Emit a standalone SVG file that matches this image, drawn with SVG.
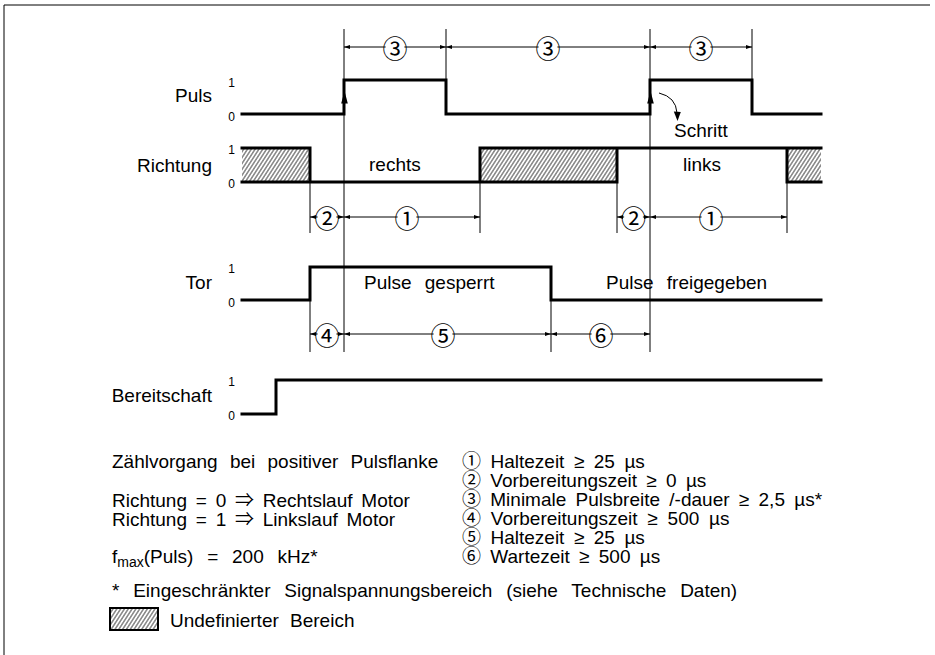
<svg xmlns="http://www.w3.org/2000/svg" width="935" height="655" viewBox="0 0 935 655">
<style>
 text { font-family: 'Liberation Sans', Arial, 'Noto Sans CJK JP', sans-serif; fill:#000; }
 .lbl { font-size:19px; }
 .end { text-anchor:end; }
 .sig { fill:none; stroke:#000; stroke-width:3; stroke-linejoin:miter; stroke-linecap:square; }
 .thin { stroke:#000; stroke-width:1; fill:none; }
 .lv { font-size:12px; text-anchor:middle; }
 .dim { stroke:#000; stroke-width:1; marker-start:url(#ah); marker-end:url(#ah); }
 .cn { font-size:25px; text-anchor:middle; dominant-baseline:central; font-family:'Noto Sans CJK JP', sans-serif; }
 .bg { fill:#fff; }
 .hat { fill:url(#hatch); stroke:none; }
</style>
<defs>
 <marker id="ah" markerUnits="userSpaceOnUse" markerWidth="6" markerHeight="4" refX="6" refY="2" orient="auto-start-reverse"><path d="M0,0 L6,2 L0,4 z" fill="#000"/></marker>
 <pattern id="hatch" patternUnits="userSpaceOnUse" width="3.2" height="10" patternTransform="rotate(33)"><line x1="0.8" y1="0" x2="0.8" y2="10" stroke="#000" stroke-width="0.8"/></pattern>
</defs>

<path id="frame" d="M4,655 V5 H930" class="thin" stroke-width="1.3"/>

<g id="connectors">
 <g id="verticals" class="thin">
  <line x1="310" y1="182" x2="310" y2="233"/>
  <line x1="310" y1="300" x2="310" y2="352"/>
  <line x1="344" y1="29" x2="344" y2="352"/>
  <line x1="446" y1="29" x2="446" y2="114"/>
  <line x1="480" y1="182" x2="480" y2="233"/>
  <line x1="551" y1="300" x2="551" y2="352"/>
  <line x1="617" y1="182" x2="617" y2="233"/>
  <line x1="650" y1="29" x2="650" y2="352"/>
  <line x1="752" y1="29" x2="752" y2="114"/>
  <line x1="787" y1="182" x2="787" y2="233"/>
 </g>
 <g id="dims">
  <line class="dim" x1="344" y1="47" x2="446" y2="47"/>
  <line class="dim" x1="446" y1="47" x2="650" y2="47"/>
  <line class="dim" x1="650" y1="47" x2="752" y2="47"/>
  <line class="dim" x1="310" y1="217" x2="344" y2="217"/>
  <line class="dim" x1="344" y1="217" x2="480" y2="217"/>
  <line class="dim" x1="617" y1="217" x2="650" y2="217"/>
  <line class="dim" x1="650" y1="217" x2="787" y2="217"/>
  <line class="dim" x1="310" y1="334" x2="344" y2="334"/>
  <line class="dim" x1="344" y1="334" x2="551" y2="334"/>
  <line class="dim" x1="551" y1="334" x2="650" y2="334"/>
 </g>
 <g id="schritt-arrow">
  <path d="M659,93 Q676,97 677,113" class="thin"/>
  <polygon points="677.5,121 673.8,111.5 680.8,112"/>
 </g>
</g>

<g id="dim-labels">
 <circle class="bg" cx="395" cy="47" r="9.5"/><text class="cn" x="395" y="47">③</text>
 <circle class="bg" cx="548" cy="47" r="9.5"/><text class="cn" x="548" y="47">③</text>
 <circle class="bg" cx="701" cy="47" r="9.5"/><text class="cn" x="701" y="47">③</text>
 <circle class="bg" cx="327" cy="217" r="9.5"/><text class="cn" x="327" y="217">②</text>
 <circle class="bg" cx="407" cy="217" r="9.5"/><text class="cn" x="407" y="217">①</text>
 <circle class="bg" cx="633.5" cy="217" r="9.5"/><text class="cn" x="633.5" y="217">②</text>
 <circle class="bg" cx="711" cy="217" r="9.5"/><text class="cn" x="711" y="217">①</text>
 <circle class="bg" cx="327" cy="334" r="9.5"/><text class="cn" x="327" y="334">④</text>
 <circle class="bg" cx="443" cy="334" r="9.5"/><text class="cn" x="443" y="334">⑤</text>
 <circle class="bg" cx="601" cy="334" r="9.5"/><text class="cn" x="601" y="334">⑥</text>
</g>

<g id="puls">
 <text class="lbl end" x="212" y="102">Puls</text>
 <text class="lv" x="231.5" y="86.5">1</text>
 <text class="lv" x="231.5" y="120.5">0</text>
 <path class="sig" d="M242,114 H344 V80 H446 V114 H650 V80 H752 V114 H821"/>
 <polygon points="344.5,91 341.2,103.5 347.8,103.5"/>
 <polygon points="650.5,91 647.2,103.5 653.8,103.5"/>
 <text class="lbl" x="674" y="137">Schritt</text>
</g>

<g id="richtung">
 <text class="lbl end" x="212" y="172">Richtung</text>
 <text class="lv" x="231.5" y="154">1</text>
 <text class="lv" x="231.5" y="188">0</text>
 <rect class="hat" x="242" y="148" width="68" height="34"/>
 <rect class="hat" x="480" y="148" width="137" height="34"/>
 <rect class="hat" x="787" y="148" width="34" height="34"/>
 <path class="sig" d="M242,148 H310 V182 M242,182 H617 V148 M480,182 V148 H821 M787,148 V182 H821"/>
 <text class="lbl" x="369" y="171">rechts</text>
 <text class="lbl" x="683" y="171">links</text>
</g>

<g id="tor">
 <text class="lbl end" x="212" y="289">Tor</text>
 <text class="lv" x="231.5" y="273">1</text>
 <text class="lv" x="231.5" y="306.5">0</text>
 <path class="sig" d="M242,300 H310 V267 H551 V300 H821"/>
 <text class="lbl" x="364" y="289" word-spacing="8">Pulse gesperrt</text>
 <text class="lbl" x="606" y="289" word-spacing="8">Pulse freigegeben</text>
</g>

<g id="bereitschaft">
 <text class="lbl end" x="212" y="402">Bereitschaft</text>
 <text class="lv" x="231.5" y="386">1</text>
 <text class="lv" x="231.5" y="420">0</text>
 <path class="sig" d="M242,414 H276 V380 H821"/>
</g>

<g id="legend" class="lbl">
 <text class="lbl" x="112" y="468" word-spacing="7">Zählvorgang bei positiver Pulsflanke</text>
 <text class="lbl" x="112" y="507" word-spacing="3.5">Richtung = 0 ⇒ Rechtslauf Motor</text>
 <text class="lbl" x="112" y="526" word-spacing="3.5">Richtung = 1 ⇒ Linkslauf Motor</text>
 <text class="lbl" x="112" y="563" word-spacing="8.5">f<tspan font-size="14" dy="4">max</tspan><tspan dy="-4">(Puls) = 200 kHz*</tspan></text>
 <text class="lbl" x="112" y="597" word-spacing="8.5">* Eingeschränkter Signalspannungsbereich (siehe Technische Daten)</text>
 <rect x="110" y="608" width="48" height="22" fill="url(#hatch)" stroke="#000" stroke-width="2"/>
 <text class="lbl" x="170" y="627" word-spacing="6">Undefinierter Bereich</text>
 <text class="lbl" x="462" y="468" word-spacing="4.2">① Haltezeit ≥ 25 µs</text>
 <text class="lbl" x="462" y="487" word-spacing="4">② Vorbereitungszeit ≥ 0 µs</text>
 <text class="lbl" x="462" y="506" word-spacing="4">③ Minimale Pulsbreite /-dauer ≥ 2,5 µs*</text>
 <text class="lbl" x="462" y="525" word-spacing="4.5">④ Vorbereitungszeit ≥ 500 µs</text>
 <text class="lbl" x="462" y="544" word-spacing="4.2">⑤ Haltezeit ≥ 25 µs</text>
 <text class="lbl" x="462" y="563" word-spacing="4">⑥ Wartezeit ≥ 500 µs</text>
</g>
</svg>
